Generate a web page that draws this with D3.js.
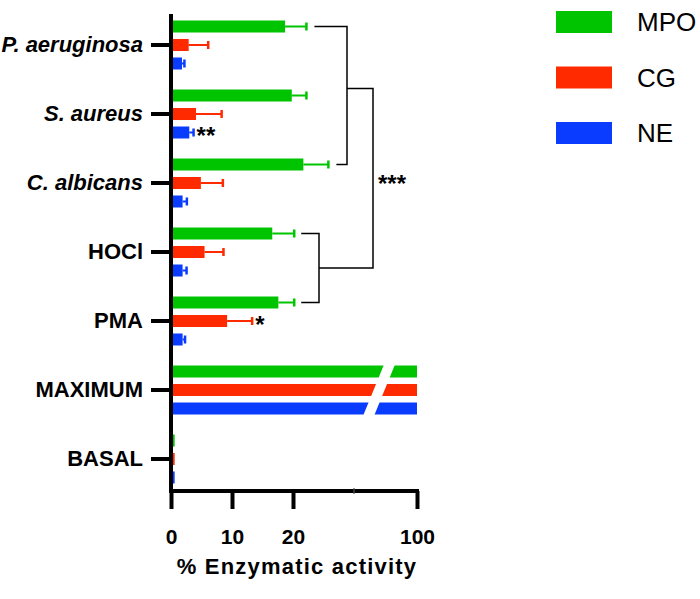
<!DOCTYPE html>
<html>
<head>
<meta charset="utf-8">
<script src="https://cdn.jsdelivr.net/npm/d3@7"></script>
<style>
  body { margin: 0; background: #fff; }
  svg { display: block; font-family: "Liberation Sans", Arial, sans-serif; }
</style>
</head>
<body>
<svg id="chart" width="700" height="599"></svg>
<script>
// ---- data ----
const categories = ["P. aeruginosa", "S. aureus", "C. albicans", "HOCl", "PMA", "MAXIMUM", "BASAL"];
const italicCats = ["P. aeruginosa", "S. aureus", "C. albicans"];
const series = ["MPO", "CG", "NE"];
const colors = ["#00c400", "#ff2a00", "#0a3cff"];
const mpo    = [18.7, 19.8, 21.7, 16.6, 17.6, 100, 0.6];
const mpoErr = [3.5, 2.4, 4.1, 3.6, 2.6, 0, 0];
const cg     = [2.9, 4.1, 4.9, 5.5, 9.2, 100, 0.6];
const cgErr  = [3.2, 4.2, 3.6, 3.1, 4.1, 0, 0];
const ne     = [1.8, 3.0, 1.9, 1.9, 1.9, 100, 0.6];
const neErr  = [0.4, 0.7, 0.7, 0.65, 0.4, 0, 0];
const xTickValues = [0, 10, 20, 100];
const xBreak = 30;
const xTitle = "% Enzymatic activity";
// significance stars on single bars: [category, series, label]
const stars = [["S. aureus", "NE", "**"], ["PMA", "CG", "*"]];
// brackets: pairs of [category, series]
const bracketA = [["P. aeruginosa", "MPO"], ["C. albicans", "MPO"]];
const bracketB = [["HOCl", "MPO"], ["PMA", "MPO"]];
const bracketLabel = "***";

const values = [mpo, cg, ne];
const errors = [mpoErr, cgErr, neErr];
const rows = [];
categories.forEach((c, i) => series.forEach((s, j) => rows.push({cat: c, ser: s, v: values[j][i], e: errors[j][i], color: colors[j]})));
const getRow = (c, s) => rows.find(r => r.cat === c && r.ser === s);

// ---- layout ----
const svg = d3.select("#chart");
const x0 = 171, xBreakPx = 354, xEnd = 417;
const yTop = 14, yBottom = 491;
const x = d3.scaleLinear().domain([0, xBreak, 100]).range([x0, xBreakPx, xEnd]);
const y = d3.scaleBand().domain(categories).range([10.5, 493.5]);
const y1 = d3.scaleBand().domain(series).range([-24.5, 24.5]).paddingInner(0.351);
const barY = r => y(r.cat) + y.bandwidth() / 2 + y1(r.ser);
const barC = r => barY(r) + y1.bandwidth() / 2;

// bars
svg.append("g").selectAll("rect").data(rows).join("rect")
  .attr("x", x(0))
  .attr("y", barY)
  .attr("width", d => x(d.v) - x(0))
  .attr("height", y1.bandwidth())
  .attr("fill", d => d.color);

// axis break slash through the MAXIMUM bars
const maxTop = y("MAXIMUM") + y.bandwidth() / 2 - 24.5 - 6;
const maxBot = y("MAXIMUM") + y.bandwidth() / 2 + 24.5 + 4;
const sx = x(xBreak);
svg.append("path")
  .attr("d", `M${sx + 32},${maxTop} L${sx + 43},${maxTop} L${sx + 19},${maxBot} L${sx + 8},${maxBot} Z`)
  .attr("fill", "#fff");

// error bars
const eb = svg.append("g").selectAll("g").data(rows.filter(r => r.e > 0)).join("g");
eb.append("line")
  .attr("x1", d => x(d.v)).attr("x2", d => x(d.v + d.e))
  .attr("y1", barC).attr("y2", barC)
  .attr("stroke", d => d.color).attr("stroke-width", 2);
eb.append("line")
  .attr("x1", d => x(d.v + d.e)).attr("x2", d => x(d.v + d.e))
  .attr("y1", d => barC(d) - 4).attr("y2", d => barC(d) + 4)
  .attr("stroke", d => d.color).attr("stroke-width", 2.5);

// x axis
const xAxis = d3.axisBottom(x).tickValues(xTickValues).tickSize(18).tickSizeOuter(0).tickFormat(d3.format("d"));
const gx = svg.append("g").attr("transform", `translate(0,${yBottom})`).call(xAxis);
gx.select(".domain").attr("stroke", "#000").attr("stroke-width", 4).attr("d", `M${x0 - 2},0H${xEnd + 2}`);
gx.selectAll(".tick line").attr("stroke", "#000").attr("stroke-width", 4);
gx.selectAll(".tick text").attr("font-size", 21).attr("font-weight", "bold").attr("fill", "#000")
  .attr("dy", 0).attr("y", 53).attr("font-family", "Liberation Sans, Arial, sans-serif");
gx.append("line").attr("x1", xBreakPx).attr("x2", xBreakPx).attr("y1", -2.5).attr("y2", 2.5)
  .attr("stroke", "#333").attr("stroke-width", 2);
svg.append("text").attr("x", 297).attr("y", 574).attr("text-anchor", "middle")
  .attr("font-size", 22).attr("font-weight", "bold").attr("letter-spacing", 1.2).text(xTitle);

// y axis
const yAxis = d3.axisLeft(y).tickSize(20).tickSizeOuter(0).tickPadding(8);
const gy = svg.append("g").attr("transform", `translate(${x0},0)`).call(yAxis);
gy.select(".domain").attr("stroke", "#000").attr("stroke-width", 4).attr("d", `M0,${yTop}V${yBottom}`);
gy.selectAll(".tick line").attr("stroke", "#000").attr("stroke-width", 4);
gy.selectAll(".tick text").attr("font-size", 22).attr("font-weight", "bold").attr("fill", "#000")
  .attr("font-family", "Liberation Sans, Arial, sans-serif")
  .attr("font-style", d => italicCats.includes(d) ? "italic" : "normal");

// stars over bars
svg.append("g").selectAll("text").data(stars).join("text")
  .attr("x", d => { const r = getRow(d[0], d[1]); return x(r.v + r.e) + 3; })
  .attr("y", d => barC(getRow(d[0], d[1])) + 12)
  .attr("font-size", 24).attr("font-weight", "bold").text(d => d[2]);

// brackets
const bk = svg.append("g").attr("fill", "none").attr("stroke", "#000").attr("stroke-width", 1.5);
function bracket(pair, vx, gap, frac) {
  const a = getRow(...pair[0]), b = getRow(...pair[1]);
  const ya = barC(a), yb = barC(b);
  bk.append("path").attr("d",
    `M${x(a.v + a.e) + gap},${ya}H${vx}V${yb}H${x(b.v + b.e) + gap}`);
  return ya + (yb - ya) * frac;
}
const midA = bracket(bracketA, 347, 8, 0.45);
const midB = bracket(bracketB, 319, 7, 0.5);
bk.append("path").attr("d", `M347,${midA}H373V${midB}H319`);
svg.append("text").attr("x", 378).attr("y", (midA + midB) / 2 + 14)
  .attr("font-size", 24).attr("font-weight", "bold").text(bracketLabel);

// legend
const lg = svg.append("g").selectAll("g").data(series).join("g")
  .attr("transform", (d, i) => `translate(556,${11 + i * 55.5})`);
lg.append("rect").attr("width", 56).attr("height", 22).attr("fill", (d, i) => colors[i]);
lg.append("text").attr("x", 81).attr("y", 11).attr("dy", "0.35em")
  .attr("font-size", 26).text(d => d);
</script>
</body>
</html>
